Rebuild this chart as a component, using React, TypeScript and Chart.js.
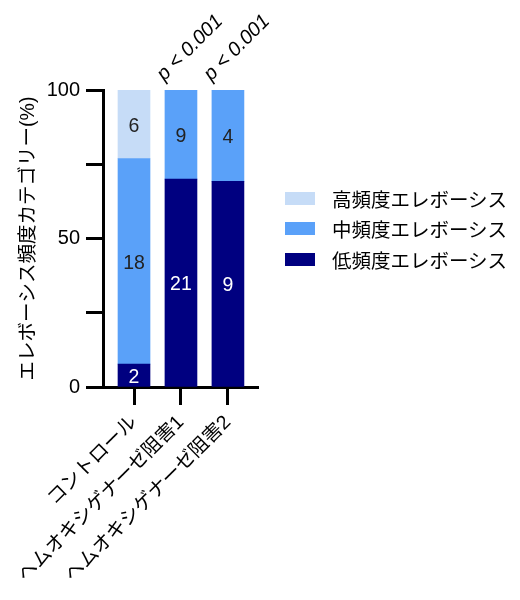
import { useEffect, useRef } from "react";
import { Chart, registerables } from "chart.js";

Chart.register(...registerables);

// categories and counts per elevation-frequency group
const categories = ["コントロール", "ヘムオキシゲナーゼ阻害1", "ヘムオキシゲナーゼ阻害2"];
const lowCounts = [2, 21, 9];
const midCounts = [18, 9, 4];
const highCounts = [6, 0, 0];
const pValues = ["", "p < 0.001", "p < 0.001"];
const seriesNames = ["低頻度エレボーシス", "中頻度エレボーシス", "高頻度エレボーシス"];
const seriesColors = ["#000080", "#5AA1F9", "#C6DCF7"];
const yTicks = [0, 50, 100];

const FONT = "'Liberation Sans', 'Noto Sans CJK JP', sans-serif";

const totals = categories.map((_, i) => lowCounts[i] + midCounts[i] + highCounts[i]);
const toPct = (arr: number[]) => arr.map((v, i) => ({ x: i, y: (v / totals[i]) * 100, count: v }));

// numbers inside each segment + p-value notes above bars
const labelPlugin = {
  id: "segmentLabels",
  afterDatasetsDraw(chart: any) {
    const ctx = chart.ctx;
    ctx.save();
    ctx.font = `19.5px ${FONT}`;
    ctx.textAlign = "center";
    ctx.textBaseline = "middle";
    chart.data.datasets.forEach((ds: any, di: number) => {
      const meta = chart.getDatasetMeta(di);
      meta.data.forEach((bar: any, j: number) => {
        const count = ds.data[j].count;
        if (!count) return;
        ctx.fillStyle = di === 0 ? "#ffffff" : "#222222";
        ctx.fillText(String(count), bar.x, (bar.y + bar.base) / 2 + 2);
      });
    });
    const xs = chart.scales.x;
    const top = chart.scales.y.getPixelForValue(100);
    ctx.font = `italic 20px ${FONT}`;
    ctx.fillStyle = "#000";
    pValues.forEach((p, j) => {
      if (!p) return;
      ctx.save();
      ctx.translate(xs.getPixelForValue(j) + 9, top - 42);
      ctx.rotate(-Math.PI / 4);
      ctx.fillText(p, 0, 0);
      ctx.restore();
    });
    ctx.restore();
  },
};

export default function App() {
  const canvasRef = useRef<HTMLCanvasElement>(null);

  useEffect(() => {
    document.body.style.margin = "0";
    const canvas = canvasRef.current;
    if (!canvas) return;
    const chart = new Chart(canvas, {
      type: "bar",
      data: {
        datasets: [lowCounts, midCounts, highCounts].map((arr, k) => ({
          label: seriesNames[k],
          data: toPct(arr) as any,
          backgroundColor: seriesColors[k],
          borderWidth: 0,
          barThickness: 32,
        })),
      },
      options: {
        animation: false,
        responsive: true,
        maintainAspectRatio: false,
        layout: { padding: { top: 90, right: 262, left: 0, bottom: 0 } },
        plugins: {
          legend: { display: false },
          tooltip: { enabled: false },
        },
        scales: {
          x: {
            type: "linear",
            stacked: true,
            min: -0.66,
            max: 2.64,
            offset: false,
            afterFit: (s: any) => {
              s.height = 213;
            },
            ticks: {
              stepSize: 1,
              includeBounds: false,
              autoSkip: false,
              minRotation: 45,
              maxRotation: 45,
              padding: 6,
              color: "#000",
              font: { family: FONT, size: 19.5 },
              callback: (v: any) => categories[v] ?? "",
            },
            grid: {
              offset: false,
              drawOnChartArea: false,
              drawTicks: true,
              tickLength: 18,
              tickWidth: 3,
              tickColor: "#000",
            },
            border: { display: true, color: "#000", width: 3 },
          },
          y: {
            stacked: true,
            min: 0,
            max: 100,
            afterFit: (s: any) => {
              s.width = 103;
            },
            ticks: {
              stepSize: 25,
              padding: 6,
              color: "#000",
              font: { family: FONT, size: 20 },
              callback: (v: any) => (yTicks.includes(v) ? v : ""),
            },
            grid: {
              drawOnChartArea: false,
              drawTicks: true,
              tickLength: 17,
              tickWidth: 3,
              tickColor: "#000",
            },
            border: { display: true, color: "#000", width: 3 },
            title: {
              display: true,
              text: "エレボーシス頻度カテゴリー(%)",
              color: "#000",
              font: { family: FONT, size: 19.5 },
              padding: { top: 17, bottom: 0 },
            },
          },
        },
      },
      plugins: [labelPlugin],
    });
    return () => chart.destroy();
  }, []);

  const legendOrder = [2, 1, 0];

  return (
    <div style={{ position: "relative", width: 520, height: 600, fontFamily: FONT }}>
      <canvas ref={canvasRef}></canvas>
      <div style={{ position: "absolute", left: 285, top: 183 }}>
        {legendOrder.map((k) => (
          <div key={k} style={{ display: "flex", alignItems: "center", height: 30.5 }}>
            <div style={{ width: 30, height: 13, background: seriesColors[k], marginRight: 17 }}></div>
            <span style={{ fontSize: 19.5, color: "#000", whiteSpace: "nowrap" }}>{seriesNames[k]}</span>
          </div>
        ))}
      </div>
    </div>
  );
}
